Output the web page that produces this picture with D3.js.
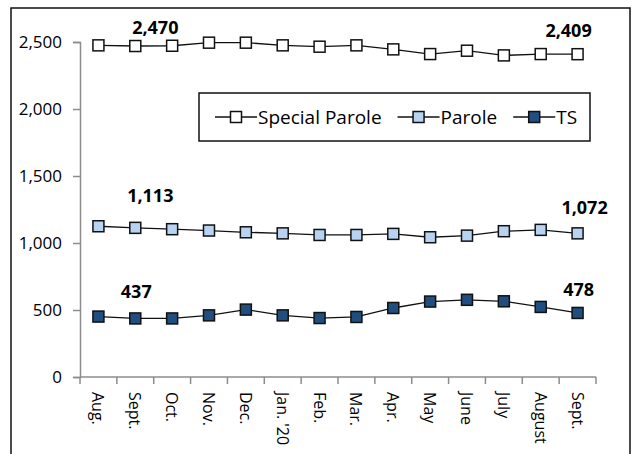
<!DOCTYPE html>
<html>
<head>
<meta charset="utf-8">
<script src="https://cdn.jsdelivr.net/npm/d3@7"></script>
<style>
  body { margin: 0; background: #fff; }
  svg text { font-family: "Open Sans", Lato, sans-serif; fill: #000; }
</style>
</head>
<body>
<div id="chart"></div>
<script>
var months = ["Aug.", "Sept.", "Oct.", "Nov.", "Dec.", "Jan. '20", "Feb.", "Mar.", "Apr.", "May", "June", "July", "August", "Sept."];
var specialParole = [2475, 2470, 2472, 2495, 2495, 2475, 2465, 2475, 2445, 2410, 2435, 2400, 2410, 2409];
var parole = [1125, 1113, 1103, 1093, 1080, 1072, 1060, 1060, 1068, 1043, 1055, 1088, 1098, 1072];
var ts = [451, 437, 437, 460, 503, 460, 440, 448, 515, 563, 576, 565, 523, 478];
var yTicks = [0, 500, 1000, 1500, 2000, 2500];
var seriesNames = ["Special Parole", "Parole", "TS"];

var width = 634, height = 454;
var plotLeft = 80, plotRight = 596, plotTop = 42, plotBottom = 377;

var svg = d3.select("#chart").append("svg")
    .attr("width", width)
    .attr("height", height);

// outer frame (bottom edge runs off the picture)
svg.append("rect")
    .attr("x", 11).attr("y", 8)
    .attr("width", 619).attr("height", 460)
    .attr("fill", "none")
    .attr("stroke", "#111")
    .attr("stroke-width", 1.5);

var x = d3.scaleBand().domain(d3.range(months.length)).range([plotLeft, plotRight]);
var y = d3.scaleLinear().domain([0, 2500]).range([plotBottom, plotTop]);

var series = [
    {name: seriesNames[0], values: specialParole, fill: "#ffffff"},
    {name: seriesNames[1], values: parole, fill: "#b8d3f2"},
    {name: seriesNames[2], values: ts, fill: "#1f4e7f"}
];

// y axis
var yAxis = svg.append("g")
    .attr("transform", "translate(" + plotLeft + ",0)")
    .call(d3.axisLeft(y).tickValues(yTicks).tickSize(7).tickPadding(11).tickFormat(d3.format(",")));
yAxis.select(".domain").attr("stroke", "#8c8c8c").attr("stroke-width", 1.5);
yAxis.selectAll(".tick line").attr("stroke", "#8c8c8c").attr("stroke-width", 1.5);
yAxis.selectAll(".tick text").style("font-size", "17px").attr("fill", "#000");

// x axis, ticks between categories
var xg = svg.append("g");
xg.append("line")
    .attr("x1", plotLeft).attr("x2", plotRight)
    .attr("y1", plotBottom).attr("y2", plotBottom)
    .attr("stroke", "#8c8c8c").attr("stroke-width", 1.5);
xg.selectAll(".xtick")
    .data(d3.range(months.length + 1))
    .enter().append("line")
    .attr("x1", function(d) { return plotLeft + d * x.bandwidth(); })
    .attr("x2", function(d) { return plotLeft + d * x.bandwidth(); })
    .attr("y1", plotBottom).attr("y2", plotBottom + 7)
    .attr("stroke", "#8c8c8c").attr("stroke-width", 1.5);
xg.selectAll(".xlabel")
    .data(months)
    .enter().append("text")
    .attr("transform", function(d, i) {
        return "translate(" + (x(i) + x.bandwidth() / 2) + "," + (plotBottom + 15) + ") rotate(90)";
    })
    .attr("dominant-baseline", "central")
    .style("font-size", "16px")
    .text(function(d) { return d; });

// lines and markers
var line = d3.line()
    .x(function(d, i) { return x(i) + x.bandwidth() / 2; })
    .y(function(d) { return y(d); });

var ms = 11;
series.forEach(function(s) {
    svg.append("path")
        .datum(s.values)
        .attr("d", line)
        .attr("fill", "none")
        .attr("stroke", "#111")
        .attr("stroke-width", 1.3);
    svg.selectAll(null)
        .data(s.values)
        .enter().append("rect")
        .attr("x", function(d, i) { return x(i) + x.bandwidth() / 2 - ms / 2; })
        .attr("y", function(d) { return y(d) - ms / 2; })
        .attr("width", ms).attr("height", ms)
        .attr("fill", s.fill)
        .attr("stroke", "#111")
        .attr("stroke-width", 1.5);
});

// data labels on first and last Sept.
var labelSpots = [
    {s: 0, i: 1, dx: 20, dy: -12},
    {s: 0, i: 13, dx: -9, dy: -17},
    {s: 1, i: 1, dx: 15, dy: -26},
    {s: 1, i: 13, dx: 7, dy: -19},
    {s: 2, i: 1, dx: 1, dy: -20},
    {s: 2, i: 13, dx: 1, dy: -17}
];
svg.selectAll(".dlabel")
    .data(labelSpots)
    .enter().append("text")
    .attr("x", function(d) { return x(d.i) + x.bandwidth() / 2 + d.dx; })
    .attr("y", function(d) { return y(series[d.s].values[d.i]) + d.dy; })
    .attr("text-anchor", "middle")
    .style("font-size", "18px")
    .style("font-weight", "bold")
    .text(function(d) { return d3.format(",")(series[d.s].values[d.i]); });

// legend
var legend = svg.append("g");
legend.append("rect")
    .attr("x", 199).attr("y", 93)
    .attr("width", 391).attr("height", 48)
    .attr("fill", "#fff")
    .attr("stroke", "#111")
    .attr("stroke-width", 1.5);
var lx = 215, ly = 117;
series.forEach(function(s) {
    legend.append("line")
        .attr("x1", lx).attr("x2", lx + 42)
        .attr("y1", ly).attr("y2", ly)
        .attr("stroke", "#111").attr("stroke-width", 1.3);
    legend.append("rect")
        .attr("x", lx + 21 - ms / 2).attr("y", ly - ms / 2)
        .attr("width", ms).attr("height", ms)
        .attr("fill", s.fill)
        .attr("stroke", "#111").attr("stroke-width", 1.5);
    var t = legend.append("text")
        .attr("x", lx + 43).attr("y", ly)
        .attr("dominant-baseline", "central")
        .style("font-size", "19px")
        .text(s.name);
    lx = lx + 43 + t.node().getComputedTextLength() + 16;
});
</script>
</body>
</html>
